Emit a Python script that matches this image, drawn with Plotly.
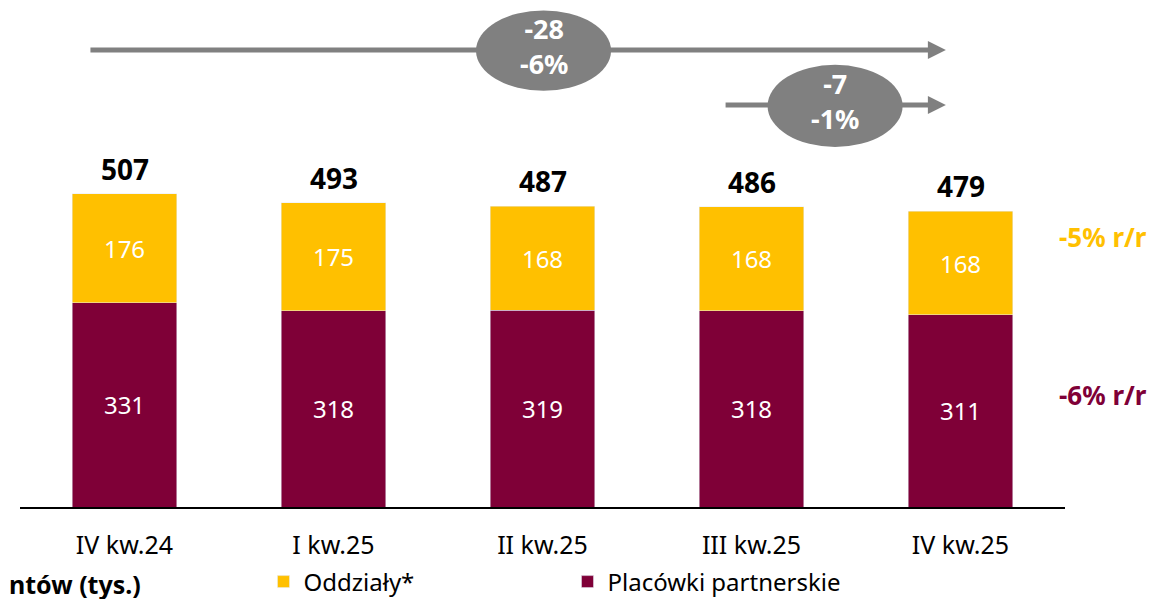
import plotly.graph_objects as go

categories = ["IV kw.24", "I kw.25", "II kw.25", "III kw.25", "IV kw.25"]
placowki = [331, 318, 319, 318, 311]
oddzialy = [176, 175, 168, 168, 168]
totals = [507, 493, 487, 486, 479]
yoy_oddzialy = "-5% r/r"
yoy_placowki = "-6% r/r"
change_long = ("-28", "-6%")
change_short = ("-7", "-1%")

YELLOW = "#FFC000"
MAROON = "#7F0037"
GREY = "#808080"
FONT = "Noto Sans"

x = list(range(len(categories)))

fig = go.Figure()
fig.add_trace(go.Bar(
    x=x, y=placowki, name="Placówki partnerskie", marker_color=MAROON,
    text=[str(v) for v in placowki], textposition="inside", insidetextanchor="middle",
    textfont=dict(color="white", size=24, family=FONT), width=0.5,
))
fig.add_trace(go.Bar(
    x=x, y=oddzialy, name="Oddziały*", marker_color=YELLOW,
    text=[str(v) for v in oddzialy], textposition="inside", insidetextanchor="middle",
    textfont=dict(color="white", size=24, family=FONT), width=0.5,
))

annotations = []
for xi, t in zip(x, totals):
    annotations.append(dict(x=xi, y=t, text=f"<b>{t}</b>", showarrow=False,
                            yanchor="bottom", yshift=4,
                            font=dict(size=28, color="black", family=FONT)))

# right side yoy labels
annotations.append(dict(xref="paper", x=1.0 + 38/1045, y=437,
                        text=f"<b>{yoy_oddzialy}</b>", showarrow=False, xanchor="center",
                        font=dict(size=26, color=YELLOW, family=FONT)))
annotations.append(dict(xref="paper", x=1.0 + 38/1045, y=181,
                        text=f"<b>{yoy_placowki}</b>", showarrow=False, xanchor="center",
                        font=dict(size=26, color=MAROON, family=FONT)))

shapes = []
def arrow(x0, x1, y, ex, ey0, ey1, label):
    shapes.append(dict(type="line", x0=x0, x1=x1 - 0.05, y0=y, y1=y,
                       line=dict(color=GREY, width=5), layer="above"))
    shapes.append(dict(type="path", xsizemode="pixel", ysizemode="pixel",
                       xanchor=x1, yanchor=y,
                       path="M -18 -9 L 0 0 L -18 9 Z",
                       fillcolor=GREY, line=dict(width=0), layer="above"))
    shapes.append(dict(type="circle", x0=ex - 0.323, x1=ex + 0.323, y0=ey0, y1=ey1,
                       fillcolor=GREY, line=dict(width=0), layer="above"))
    annotations.append(dict(x=ex, y=(ey0 + ey1) / 2, yshift=5,
                            text=f"<b>{label[0]}<br>{label[1]}</b>",
                            showarrow=False, font=dict(size=27, color="white", family=FONT)))

arrow(-0.163, 3.93, 740, 2.005, 674, 804, change_long)
arrow(2.876, 3.93, 651, 3.40, 583, 716, change_short)

# visible fragment of the chart title at bottom left (cut off in the original)
annotations.append(dict(xref="paper", yref="paper", x=-13/1045, y=-(584 - 507) / 507,
                        text="<b>ntów (tys.)</b>", showarrow=False,
                        xanchor="left", yanchor="middle",
                        font=dict(size=25, color="black", family=FONT)))

fig.update_layout(
    barmode="stack",
    width=1158, height=599,
    margin=dict(l=20, r=93, t=0, b=92, autoexpand=False),
    plot_bgcolor="white", paper_bgcolor="white",
    font=dict(family=FONT, color="black"),
    xaxis=dict(range=[-0.5, 4.5], tickmode="array", tickvals=x, ticktext=categories,
               showline=True, linecolor="black", linewidth=2, showgrid=False,
               ticks="", tickfont=dict(size=25, family=FONT, color="black"),
               ticklabelstandoff=15, zeroline=False),
    yaxis=dict(range=[0, 821], visible=False, showgrid=False, zeroline=False),
    legend=dict(orientation="h", x=0.233, y=-(582 - 507) / 507, xanchor="left", yanchor="middle",
                entrywidth=259, entrywidthmode="pixels",
                font=dict(size=24, family=FONT, color="black"), bgcolor="rgba(0,0,0,0)"),
    showlegend=True,
    annotations=annotations,
    shapes=shapes,
)
fig.update_layout(legend_traceorder="reversed")

fig.write_html("out.html", config={"displayModeBar": False},
               post_script="document.body.style.margin='0';document.body.style.overflow='hidden';")
